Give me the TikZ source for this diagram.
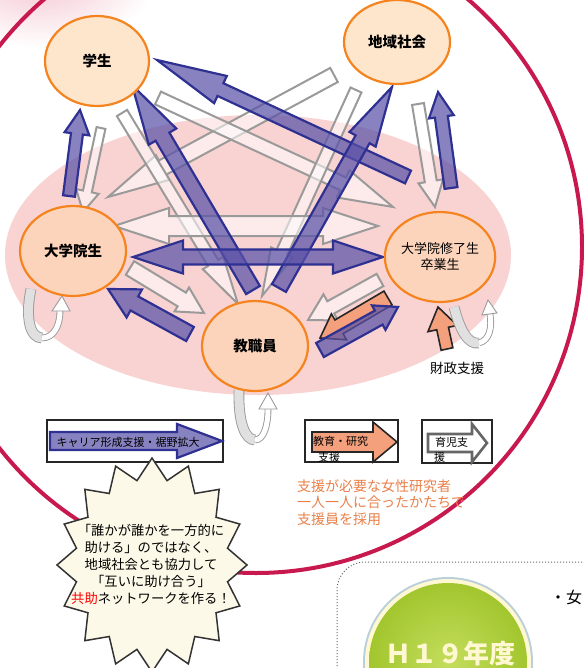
\documentclass[tikz,border=0pt]{standalone}
\usepackage{fontspec}
\setmainfont{Noto Sans CJK JP}
\usetikzlibrary{shapes.geometric,calc}
\definecolor{ringred}{HTML}{C8194F}
\definecolor{pinkbg}{HTML}{F9D3D2}
\definecolor{blobpink}{HTML}{F2C0CC}
\definecolor{nodeor}{HTML}{F5841F}
\definecolor{nodefill}{HTML}{FCD4BC}
\definecolor{nodefilltop}{HTML}{FEE6CC}
\definecolor{bluefill}{HTML}{5A52A8}
\definecolor{blueline}{HTML}{2E3192}
\definecolor{salfill}{HTML}{F4A07C}
\definecolor{grayline}{HTML}{9A9A9A}
\definecolor{orangetxt}{HTML}{E8804A}
\definecolor{starfill}{HTML}{FDF9E8}
\definecolor{greendisk}{HTML}{A2C62E}
\definecolor{greenlight}{HTML}{C4DD5C}
\definecolor{diskedge}{HTML}{B9D0DA}
\definecolor{diskcream}{HTML}{FFF8D2}

% block arrow: style, tail coordinate, tip coordinate, shaft half width, head half width, head length
\newcommand\blockarr[6]{%
\begingroup
\pgfpointdiff{\pgfpointanchor{#2}{center}}{\pgfpointanchor{#3}{center}}%
\pgfgetlastxy{\ax}{\ay}%
\pgfmathsetmacro\alen{veclen(\ax,\ay)}%
\pgfmathsetmacro\aang{atan2(\ay,\ax)}%
\path[#1, shift={(#2)}, rotate=\aang] (0pt,-#4pt) -- ({\alen pt-#6pt},-#4pt) -- ({\alen pt-#6pt},-#5pt) -- (\alen pt,0pt) -- ({\alen pt-#6pt},#5pt) -- ({\alen pt-#6pt},#4pt) -- (0pt,#4pt) -- cycle;
\endgroup}
% double headed block arrow
\newcommand\dblockarr[6]{%
\begingroup
\pgfpointdiff{\pgfpointanchor{#2}{center}}{\pgfpointanchor{#3}{center}}%
\pgfgetlastxy{\ax}{\ay}%
\pgfmathsetmacro\alen{veclen(\ax,\ay)}%
\pgfmathsetmacro\aang{atan2(\ay,\ax)}%
\path[#1, shift={(#2)}, rotate=\aang] (0pt,0pt) -- (#6pt,-#5pt) -- (#6pt,-#4pt) -- ({\alen pt-#6pt},-#4pt) -- ({\alen pt-#6pt},-#5pt) -- (\alen pt,0pt) -- ({\alen pt-#6pt},#5pt) -- ({\alen pt-#6pt},#4pt) -- (#6pt,#4pt) -- (#6pt,#5pt) -- cycle;
\endgroup}

\begin{document}
\begin{tikzpicture}[x=1pt,y=-1pt,
 person/.style={ellipse, draw=nodeor, line width=2.2pt, fill=nodefill, inner sep=0pt, minimum width=106pt, minimum height=90pt, font=\bfseries\fontsize{14.5}{17}\selectfont},
 bluearr/.style={fill=bluefill, fill opacity=0.72, draw=blueline, line width=2.2pt, line join=miter},
 grayarr/.style={fill=white, fill opacity=0.55, draw=grayline, line width=2pt, line join=miter},
 salarr/.style={fill=salfill, draw=black!85, line width=1.6pt, line join=miter},
 legbox/.style={draw=black!85, line width=1.4pt, fill=white},
 loopback/.style={draw=grayline, line width=0.9pt, double=black!12, double distance=9pt},
 loopfront/.style={draw=grayline, line width=0.9pt, double=white, double distance=5pt},
 loophead/.style={draw=grayline, line width=0.9pt, fill=white, line join=miter},
 legtext/.style={inner sep=0pt, font=\fontsize{11}{13}\selectfont}
]
\useasboundingbox (0,0) rectangle (583,668);

% backgrounds
\shade[inner color=blobpink, outer color=white] (40,-30) ellipse [x radius=120, y radius=78];
\fill[pinkbg] (258,255) ellipse [x radius=253, y radius=140];
\draw[ringred, line width=4pt] (256,247) circle [radius=326];

% coordinates of arrow ends
\coordinate (bASt) at (408,177); \coordinate (bASh) at (157,60);
\coordinate (bFSt) at (253,290); \coordinate (bFSh) at (132,85);
\coordinate (bFCt) at (279,288); \coordinate (bFCh) at (392,87);
\coordinate (bGAl) at (133,257); \coordinate (bGAr) at (383,257);
\coordinate (bGSt) at (69,196); \coordinate (bGSh) at (80,110);
\coordinate (bACt) at (451,188); \coordinate (bACh) at (438,92);
\coordinate (bFGt) at (190,334); \coordinate (bFGh) at (108,289);
\coordinate (bFAt) at (320,350); \coordinate (bFAh) at (398,307);
\coordinate (gSGt) at (101,128); \coordinate (gSGh) at (83,212);
\coordinate (gCAt) at (418,104); \coordinate (gCAh) at (435,207);
\coordinate (gCGt) at (334,75); \coordinate (gCGh) at (108,197);
\coordinate (gSAt) at (158,98); \coordinate (gSAh) at (393,207);
\coordinate (gSFt) at (122,113); \coordinate (gSFh) at (238,304);
\coordinate (gCFt) at (356,90); \coordinate (gCFh) at (262,296);
\coordinate (gGAl) at (114,226); \coordinate (gGAr) at (378,226);
\coordinate (gGFt) at (130,268); \coordinate (gGFh) at (204,313);
\coordinate (gAFt) at (380,280); \coordinate (gAFh) at (308,320);
\coordinate (oAFt) at (388,298); \coordinate (oAFh) at (320,338);
\coordinate (oFIt) at (447,349); \coordinate (oFIh) at (438,307);

% gray arrows (childcare support)
\blockarr{grayarr}{gSGt}{gSGh}{4.5}{11.5}{21}
\blockarr{grayarr}{gCAt}{gCAh}{6}{12.5}{26}
\blockarr{grayarr}{gCGt}{gCGh}{8}{14}{62}
\blockarr{grayarr}{gSAt}{gSAh}{7}{15}{55}
\blockarr{grayarr}{gSFt}{gSFh}{6}{12}{48}
\blockarr{grayarr}{gCFt}{gCFh}{6}{12}{48}
\dblockarr{grayarr}{gGAl}{gGAr}{10}{18}{55}
\blockarr{grayarr}{gGFt}{gGFh}{8}{14}{26}
\blockarr{grayarr}{gAFt}{gAFh}{7}{15}{26}

% salmon arrows
\blockarr{salarr}{oAFt}{oAFh}{8}{15}{22}
\blockarr{salarr}{oFIt}{oFIh}{6}{15}{22}

% blue arrows (career support)
\blockarr{bluearr}{bASt}{bASh}{7}{15}{70}
\blockarr{bluearr}{bFSt}{bFSh}{8}{16}{60}
\blockarr{bluearr}{bFCt}{bFCh}{8}{15}{60}
\dblockarr{bluearr}{bGAl}{bGAr}{7.5}{16.5}{50}
\blockarr{bluearr}{bGSt}{bGSh}{6}{12.5}{24}
\blockarr{bluearr}{bACt}{bACh}{6.5}{12.5}{25}
\blockarr{bluearr}{bFGt}{bFGh}{8}{16}{30}
\blockarr{bluearr}{bFAt}{bFAh}{8}{14}{22}

% self loops
\draw[loopback] (239,390) .. controls (238,425) and (246,440) .. (255,440);
\draw[loopfront] (255,440) .. controls (264,440) and (268,425) .. (268,409);
\path[loophead] (259,409) -- (268,393) -- (277,409) -- cycle;
\draw[loopback] (31,289) .. controls (25,318) and (30,338) .. (42,338);
\draw[loopfront] (42,338) .. controls (54,338) and (60,325) .. (60,311);
\path[loophead] (52,311) -- (62,296) -- (70,311) -- cycle;
\draw[loopback] (454,307) .. controls (460,330) and (468,345) .. (479,343);
\draw[loopfront] (479,343) .. controls (490,340) and (492,327) .. (490,314);
\path[loophead] (482,315) -- (488,300) -- (497,313) -- cycle;

% persons
\node[person, fill=nodefilltop, minimum width=104pt] (S) at (97,61) {学生};
\node[person, fill=nodefilltop, minimum height=84pt] (C) at (397,42) {地域社会};
\node[person] (G) at (73,251) {大学院生};
\node[person, align=center, font=\fontsize{13}{16}\selectfont] (A) at (440,257) {大学院修了生\\卒業生};
\node[person] (F) at (255,346) {教職員};

\node[font=\fontsize{13.5}{15}\selectfont] (fin) at (457,368) {財政支援};

% legend
\draw[legbox] (47,420) rectangle (223,462);
\coordinate (l1t) at (50,441); \coordinate (l1h) at (222,441);
\blockarr{bluearr}{l1t}{l1h}{9}{17}{45}
\node[legtext] (l1) at (128,442) {キャリア形成支援・裾野拡大};

\draw[legbox] (305,420) rectangle (398,462);
\coordinate (l2t) at (312,442); \coordinate (l2h) at (397,442);
\blockarr{salarr}{l2t}{l2h}{10}{20}{24}
\node[legtext, anchor=west] (l2a) at (313,441) {教育・研究};
\node[legtext, anchor=west] (l2b) at (318,457) {支援};

\draw[legbox] (422,420) rectangle (492,463);
\coordinate (l3t) at (428,443); \coordinate (l3h) at (487,443);
\blockarr{draw=black!60, line width=2.6pt, fill=white, line join=miter}{l3t}{l3h}{9}{19}{15}
\node[legtext, anchor=west] (l3a) at (435,442) {育児支};
\node[legtext, anchor=west] (l3b) at (434,457) {援};

% orange note
\node[anchor=north west, align=left, inner sep=0pt, text=orangetxt, font=\fontsize{14}{16.5}\selectfont] (note) at (297,479) {支援が必要な女性研究者\\一人一人に合ったかたちで\\支援員を採用};

% burst
\draw[fill=starfill, draw=black!80, line width=1.5pt, line join=miter] (152,458)
  \foreach \i in {1,...,31}{ -- ({152+ifthenelse(mod(\i,2)==0,95,77)*cos(90+\i*11.25)}, {565-ifthenelse(mod(\i,2)==0,107,86)*sin(90+\i*11.25)}) } -- cycle;
\node[align=center, inner sep=0pt, font=\fontsize{13.3}{17}\selectfont] (burst) at (151,564)
  {「誰かが誰かを一方的に\\助ける」のではなく、\\地域社会とも協力して\\「互いに助け合う」\\{\color{red}共助}ネットワークを作る！};

% bottom right panel
\draw[black!60, line width=1pt, dotted, rounded corners=28pt] (600,562) -- (337,562) -- (337,700);
\fill[diskedge] (448,662) circle [radius=85];
\fill[diskcream] (448,662) circle [radius=83];
\shade[inner color=greenlight, outer color=greendisk] (448,662) circle [radius=79];
\node[text=diskcream, font=\bfseries\fontsize{26}{28}\selectfont, inner sep=0pt] (h19) at (450,654) {Ｈ１９年度};
\node[anchor=west, inner sep=0pt, font=\fontsize{16}{18}\selectfont] (jo) at (550,597) {・女};
\end{tikzpicture}
\end{document}
